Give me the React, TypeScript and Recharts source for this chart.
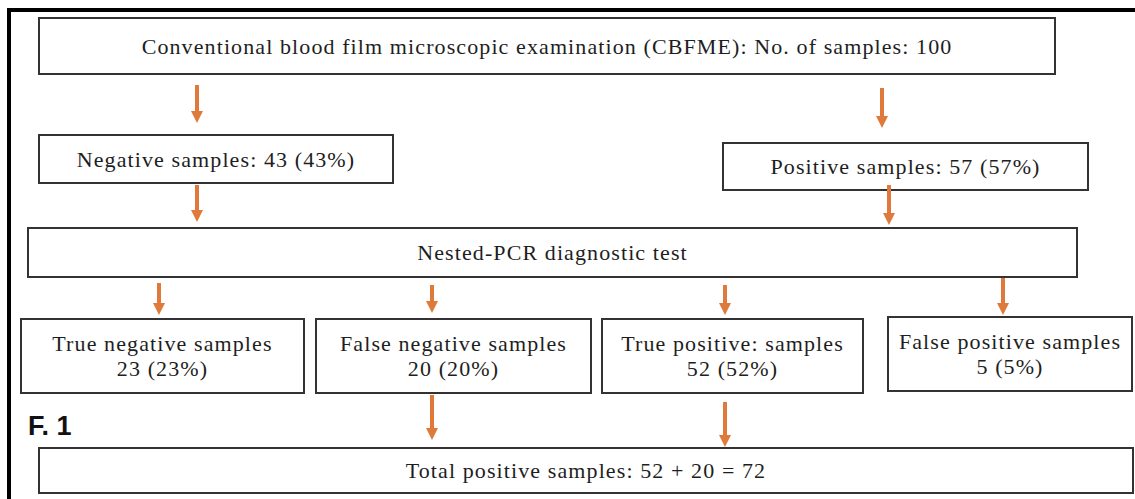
import React from "react";
import {
  ReferenceArea,
  ReferenceDot,
  ReferenceLine,
  Scatter,
  ScatterChart,
  XAxis,
  YAxis,
} from "recharts";

// counts from the study (100 samples)
const totalSamples = 100;
const negativeCBFME = 43;
const positiveCBFME = 57;
const trueNegative = 23;
const falseNegative = 20;
const truePositive = 52;
const falsePositive = 5;

const pct = (n: number) => `${n} (${Math.round((n / totalSamples) * 100)}%)`;

// flowchart nodes, in diagram units
const nodeLines: string[][] = [
  [`Conventional blood film microscopic examination (CBFME): No. of samples: ${totalSamples}`],
  [`Negative samples: ${pct(negativeCBFME)}`],
  [`Positive samples: ${pct(positiveCBFME)}`],
  ["Nested-PCR diagnostic test"],
  ["True negative samples", pct(trueNegative)],
  ["False negative samples", pct(falseNegative)],
  ["True positive: samples", pct(truePositive)],
  ["False positive samples", pct(falsePositive)],
  [`Total positive samples: ${truePositive} + ${falseNegative} = ${truePositive + falseNegative}`],
];
const nodeLeft = [39, 39, 723, 28, 21, 316, 602, 888, 39];
const nodeRight = [1055, 393, 1088, 1077, 304, 591, 863, 1132, 1133];
const nodeTop = [18, 135, 143, 228, 319, 319, 319, 317, 448];
const nodeBottom = [74, 183, 190, 277, 393, 393, 393, 391, 493];

// arrows: x, start and tip
const arrowX = [197, 882, 197, 889, 159, 432, 725, 1003, 432, 725];
const arrowFrom = [85, 88, 185, 185, 283, 285, 285, 278, 395, 402];
const arrowTo = [123, 128, 222, 225, 315, 313, 315, 315, 440, 447];

const arrowTips = arrowX.map((x, i) => ({ x, y: arrowTo[i] }));

const ORANGE = "#E07A3A";
const SERIF = "'Liberation Serif', 'Times New Roman', serif";

const BoxLabel = (props: any) => {
  const { viewBox, lines } = props;
  if (!viewBox) return null;
  const cx = viewBox.x + viewBox.width / 2;
  const cy = viewBox.y + viewBox.height / 2;
  const gap = 25;
  return (
    <text
      textAnchor="middle"
      fontFamily={SERIF}
      fontSize={22}
      letterSpacing={1.1}
      fill="#1e1e1e"
    >
      {lines.map((line: string, i: number) => (
        <tspan
          key={i}
          x={cx}
          y={cy + (i - (lines.length - 1) / 2) * gap}
          dominantBaseline="central"
        >
          {line}
        </tspan>
      ))}
    </text>
  );
};

const ArrowHead = (props: any) => {
  const { cx, cy } = props;
  return (
    <path
      d={`M${cx - 6},${cy - 12} L${cx + 6},${cy - 12} L${cx},${cy} Z`}
      fill={ORANGE}
    />
  );
};

const FigureTag = (props: any) => (
  <text
    x={props.cx}
    y={props.cy}
    fontFamily="'Liberation Sans', Arial, sans-serif"
    fontWeight="bold"
    fontSize={27}
    fill="#111"
  >
    F. 1
  </text>
);

const App: React.FC = () => {
  return (
    <div style={{ width: 1135, height: 499, background: "#fff" }}>
      <style>{"body{margin:0;background:#fff}"}</style>
      <ScatterChart
        width={1135}
        height={499}
        margin={{ top: 0, right: 0, bottom: 0, left: 0 }}
      >
        <XAxis type="number" dataKey="x" domain={[0, 1135]} allowDataOverflow hide />
        <YAxis type="number" dataKey="y" domain={[0, 499]} allowDataOverflow reversed hide />

        {/* frame */}
        <ReferenceLine
          segment={[{ x: 9, y: 8 }, { x: 9, y: 499 }]}
          stroke="#000"
          strokeWidth={4}
        />
        <ReferenceLine
          segment={[{ x: 7, y: 10 }, { x: 1135, y: 10 }]}
          stroke="#000"
          strokeWidth={4}
        />

        {nodeLines.map((lines, i) => (
          <ReferenceArea
            key={`node-${i}`}
            x1={nodeLeft[i]}
            x2={nodeRight[i]}
            y1={nodeTop[i]}
            y2={nodeBottom[i]}
            fill="#fff"
            fillOpacity={1}
            stroke="#333"
            strokeWidth={2}
            label={<BoxLabel lines={lines} />}
          />
        ))}

        {arrowX.map((x, i) => (
          <ReferenceLine
            key={`arrow-${i}`}
            segment={[{ x, y: arrowFrom[i] }, { x, y: arrowTo[i] - 10 }]}
            stroke={ORANGE}
            strokeWidth={4}
          />
        ))}

        <Scatter
          data={arrowTips}
          shape={<ArrowHead />}
          isAnimationActive={false}
        />

        <ReferenceDot x={28} y={435} r={0} shape={<FigureTag />} />
      </ScatterChart>
    </div>
  );
};

export default App;
